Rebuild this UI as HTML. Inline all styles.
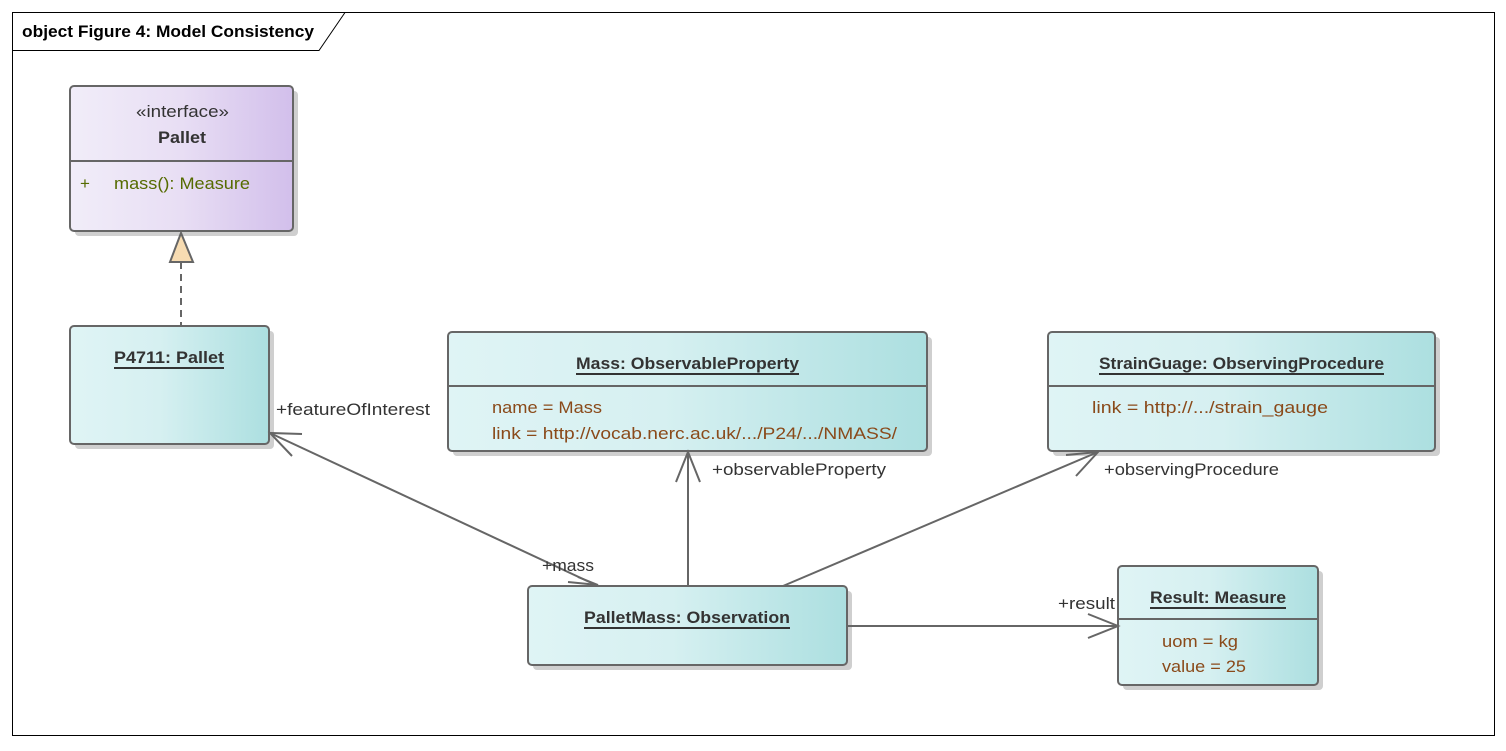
<!DOCTYPE html>
<html><head><meta charset="utf-8"><style>
body{margin:0;background:#fff}
text{font-family:"Liberation Sans","DejaVu Sans",sans-serif}
</style></head><body>
<svg width="1506" height="746" viewBox="0 0 1506 746" xmlns="http://www.w3.org/2000/svg">
<defs>
<linearGradient id="cy" x1="0" x2="1" y1="0" y2="0"><stop offset="0" stop-color="#dff4f5"/><stop offset="0.45" stop-color="#d6f0f1"/><stop offset="1" stop-color="#acdfe0"/></linearGradient>
<linearGradient id="pu" x1="0" x2="1" y1="0" y2="0"><stop offset="0" stop-color="#f1edf9"/><stop offset="0.5" stop-color="#e8def4"/><stop offset="1" stop-color="#d2bfeb"/></linearGradient>
</defs>
<rect x="12.5" y="12.5" width="1482" height="723" fill="#fff" stroke="#000" stroke-width="1"/>
<path d="M12.5 50.5 H319 L345 12.5" fill="none" stroke="#000"/>
<text x="22" y="37" font-size="17" font-weight="bold" fill="#000" textLength="292" lengthAdjust="spacingAndGlyphs">object Figure 4: Model Consistency</text>

<g fill="#cfcfcf">
<rect x="75" y="91" width="223" height="145" rx="4"/>
<rect x="75" y="331" width="199" height="118" rx="4"/>
<rect x="453" y="337" width="479" height="119" rx="4"/>
<rect x="1053" y="337" width="387" height="119" rx="4"/>
<rect x="533" y="591" width="319" height="79" rx="4"/>
<rect x="1123" y="571" width="200" height="119" rx="4"/>
</g>
<g stroke="#666" stroke-width="2">
<rect x="70" y="86" width="223" height="145" rx="4" fill="url(#pu)"/>
<line x1="70" y1="161" x2="293" y2="161"/>
<rect x="70" y="326" width="199" height="118" rx="4" fill="url(#cy)"/>
<rect x="448" y="332" width="479" height="119" rx="4" fill="url(#cy)"/>
<line x1="448" y1="386" x2="927" y2="386"/>
<rect x="1048" y="332" width="387" height="119" rx="4" fill="url(#cy)"/>
<line x1="1048" y1="386" x2="1435" y2="386"/>
<rect x="528" y="586" width="319" height="79" rx="4" fill="url(#cy)"/>
<rect x="1118" y="566" width="200" height="119" rx="4" fill="url(#cy)"/>
<line x1="1118" y1="619" x2="1318" y2="619"/>
</g>

<g font-size="17" fill="#333" lengthAdjust="spacingAndGlyphs">
<text x="136" y="117" textLength="93" lengthAdjust="spacingAndGlyphs">«interface»</text>
<text x="158" y="143" font-weight="bold" textLength="48" lengthAdjust="spacingAndGlyphs">Pallet</text>
<text x="114" y="363" font-weight="bold" textLength="110" lengthAdjust="spacingAndGlyphs">P4711: Pallet</text>
<text x="576" y="369" font-weight="bold" textLength="223" lengthAdjust="spacingAndGlyphs">Mass: ObservableProperty</text>
<text x="1099" y="369" font-weight="bold" textLength="285" lengthAdjust="spacingAndGlyphs">StrainGuage: ObservingProcedure</text>
<text x="584" y="623" font-weight="bold" textLength="206" lengthAdjust="spacingAndGlyphs">PalletMass: Observation</text>
<text x="1150" y="603" font-weight="bold" textLength="136" lengthAdjust="spacingAndGlyphs">Result: Measure</text>
</g>
<g stroke="#333" stroke-width="2">
<line x1="114" y1="368" x2="224" y2="368"/>
<line x1="576" y1="374" x2="799" y2="374"/>
<line x1="1099" y1="374" x2="1384" y2="374"/>
<line x1="584" y1="628" x2="790" y2="628"/>
<line x1="1150" y1="608" x2="1286" y2="608"/>
</g>
<g font-size="17" fill="#8a4a1a">
<text x="80" y="189" fill="#556b00">+</text>
<text x="114" y="189" fill="#556b00" textLength="136" lengthAdjust="spacingAndGlyphs">mass(): Measure</text>
<text x="492" y="413" textLength="110" lengthAdjust="spacingAndGlyphs">name = Mass</text>
<text x="492" y="439" textLength="405" lengthAdjust="spacingAndGlyphs">link = http://vocab.nerc.ac.uk/.../P24/.../NMASS/</text>
<text x="1092" y="413" textLength="236" lengthAdjust="spacingAndGlyphs">link = http://.../strain_gauge</text>
<text x="1162" y="647" textLength="76" lengthAdjust="spacingAndGlyphs">uom = kg</text>
<text x="1162" y="672" textLength="84" lengthAdjust="spacingAndGlyphs">value = 25</text>
</g>

<g stroke="#666" stroke-width="2" fill="none">
<line x1="181" y1="262" x2="181" y2="326" stroke-dasharray="7,5"/>
<line x1="598" y1="586" x2="270" y2="433"/>
<path d="M302 434 L270 433 L292 456"/>
<path d="M568 582 L598 585 L578 577"/>
<line x1="688" y1="586" x2="688" y2="452"/>
<path d="M676 482 L688 452 L700 482"/>
<line x1="783" y1="586" x2="1098" y2="452"/>
<path d="M1066 455 L1098 452 L1076 476"/>
<line x1="847" y1="626" x2="1118" y2="626"/>
<path d="M1088 614 L1118 626 L1088 638"/>
</g>
<path d="M181 233 L170 262 L193 262 Z" fill="#f7dcb2" stroke="#666" stroke-width="2"/>

<g font-size="17" fill="#333">
<text x="276" y="415" textLength="154" lengthAdjust="spacingAndGlyphs">+featureOfInterest</text>
<text x="542" y="571" textLength="52" lengthAdjust="spacingAndGlyphs">+mass</text>
<text x="712" y="475" textLength="174" lengthAdjust="spacingAndGlyphs">+observableProperty</text>
<text x="1104" y="475" textLength="175" lengthAdjust="spacingAndGlyphs">+observingProcedure</text>
<text x="1058" y="609" textLength="57" lengthAdjust="spacingAndGlyphs">+result</text>
</g>
</svg>
</body></html>
